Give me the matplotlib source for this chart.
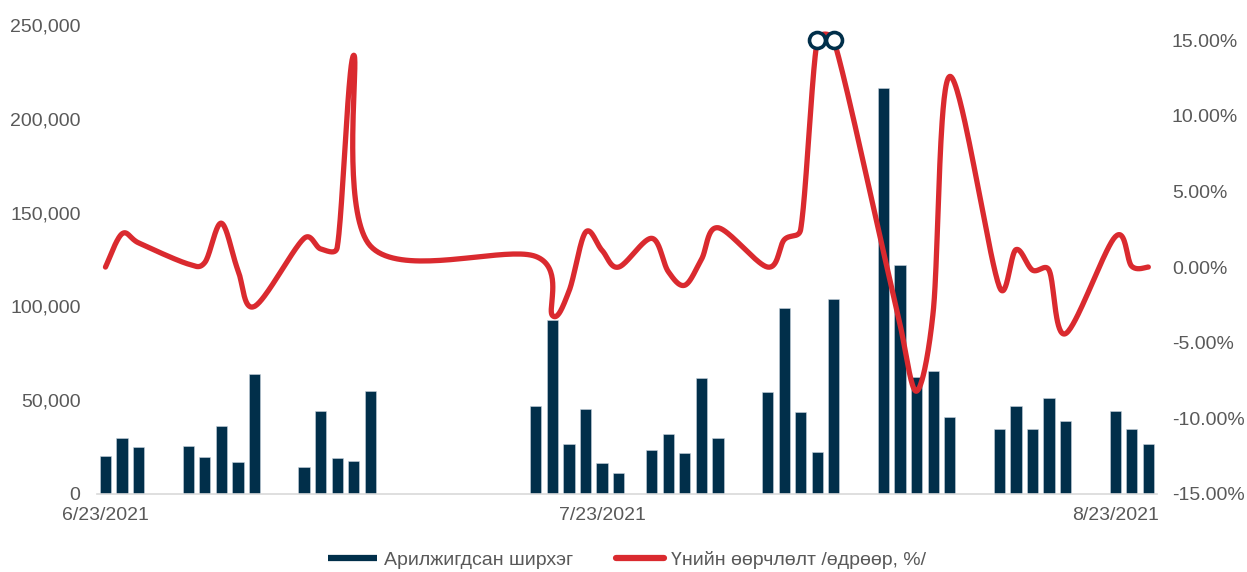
import numpy as np
import matplotlib
matplotlib.use("Agg")
import matplotlib.pyplot as plt
import matplotlib.dates as mdates
from matplotlib.lines import Line2D
from matplotlib.ticker import FuncFormatter, FixedLocator
import datetime as dt

plt.rcParams['font.family'] = ['Liberation Sans', 'DejaVu Sans']

# ---------------- data ----------------
dates = ["2021-06-23", "2021-06-24", "2021-06-25", "2021-06-28", "2021-06-29", "2021-06-30",
         "2021-07-01", "2021-07-02", "2021-07-05", "2021-07-06", "2021-07-07", "2021-07-08",
         "2021-07-09", "2021-07-19", "2021-07-20", "2021-07-21", "2021-07-22", "2021-07-23",
         "2021-07-24", "2021-07-26", "2021-07-27", "2021-07-28", "2021-07-29", "2021-07-30",
         "2021-08-02", "2021-08-03", "2021-08-04", "2021-08-05", "2021-08-06", "2021-08-09",
         "2021-08-10", "2021-08-11", "2021-08-12", "2021-08-13", "2021-08-16", "2021-08-17",
         "2021-08-18", "2021-08-19", "2021-08-20", "2021-08-23", "2021-08-24", "2021-08-25"]

volume = [20000, 29700, 24900, 25800, 19900, 36400,
          16900, 64200, 14200, 44400, 19000, 17400,
          55100, 46900, 92800, 26500, 45300, 16700,
          11000, 23300, 32200, 21700, 61700, 29700,
          54200, 99200, 43600, 22400, 104200, 216400,
          122100, 62400, 65800, 41200, 34700, 46900,
          34700, 51000, 38800, 44400, 34700, 26500]

change_pct = [0.0, 2.2, 1.6, 0.2, 0.3, 2.9,
              -0.2, -2.6, 1.9, 1.2, 1.3, 14.0,
              1.4, 0.7, -3.2, -1.6, 2.3, 1.1,
              0.0, 1.9, -0.3, -1.2, 0.5, 2.6,
              0.0, 1.8, 2.5, 15.0, 15.0, 1.0,
              -3.8, -8.2, -3.0, 12.6, -1.3, 1.15,
              -0.2, -0.2, -4.4, 2.0, 0.05, 0.0]

marked_dates = ["2021-08-05", "2021-08-06"]

x_tick_dates = ["2021-06-23", "2021-07-23", "2021-08-23"]
left_ticks = [0, 50000, 100000, 150000, 200000, 250000]
right_ticks = [-0.15, -0.10, -0.05, 0.0, 0.05, 0.10, 0.15]

series_names = ["Арилжигдсан ширхэг", "Үнийн өөрчлөлт /өдрөөр, %/"]

# ---------------- style ----------------
NAVY = "#012f4a"
RED = "#da2a2f"
GRAY_TXT = "#595959"
AXIS_GRAY = "#d9d9d9"
FS = 14

def to_num(s):
    return mdates.date2num(dt.datetime.strptime(s, "%Y-%m-%d"))

xd = np.array([to_num(d) for d in dates])
yv = np.array(volume, dtype=float)
yc = np.array(change_pct, dtype=float) / 100.0

fig = plt.figure(figsize=(12.47, 5.72), dpi=100)
L, R = 97.2 / 1247, 1156.6 / 1247
B, T = 1 - 494 / 572, 1 - 25 / 572
ax = fig.add_axes([L, B, R - L, T - B])
ax2 = ax.twinx()

ax.bar(xd, yv, width=0.68, color=NAVY, edgecolor="#c8d3dc", linewidth=0.4, zorder=2)

ax.set_xlim(xd[0] - 0.5, xd[-1] + 0.5)
ax.set_ylim(0, 250000)
ax2.set_ylim(-0.15, 0.16)

ax.xaxis.set_major_locator(FixedLocator([to_num(d) for d in x_tick_dates]))
ax.xaxis.set_major_formatter(FuncFormatter(
    lambda v, p: f"{mdates.num2date(v).month}/{mdates.num2date(v).day}/{mdates.num2date(v).year}"))
ax.yaxis.set_major_locator(FixedLocator(left_ticks))
ax.yaxis.set_major_formatter(FuncFormatter(lambda v, p: f"{int(v):,}"))
ax2.yaxis.set_major_locator(FixedLocator(right_ticks))
ax2.yaxis.set_major_formatter(FuncFormatter(lambda v, p: f"{v*100:.2f}%"))

for a in (ax, ax2):
    for s in a.spines.values():
        s.set_visible(False)
    a.tick_params(length=0, labelsize=FS, labelcolor=GRAY_TXT)
ax.spines['bottom'].set_visible(True)
ax.spines['bottom'].set_color(AXIS_GRAY)
ax.spines['bottom'].set_linewidth(1.2)
ax.tick_params(axis='y', pad=12)
ax.tick_params(axis='x', pad=9)
ax2.tick_params(axis='y', pad=11)

# ---------- Excel-like smoothed line (Bezier in display space) ----------
P = ax2.transData.transform(np.column_stack([xd, yc]))
n = len(P)
curve = [P[0]]
ts = np.linspace(0, 1, 40)[1:]
for i in range(n - 1):
    p0 = P[i - 1] if i > 0 else P[i]
    p1, p2 = P[i], P[i + 1]
    p3 = P[i + 2] if i + 2 < n else P[i + 1]
    d12 = np.hypot(*(p2 - p1))
    d02 = np.hypot(*(p2 - p0))
    d13 = np.hypot(*(p3 - p1))
    f1 = 1 / 6
    f2 = 1 / 6
    if d02 > 0 and d02 / 6 > d12 / 2:
        f1 = d12 / (2 * d02)
    if d13 > 0 and d13 / 6 > d12 / 2:
        f2 = d12 / (2 * d13)
    c1 = p1 + f1 * (p2 - p0)
    c2 = p2 - f2 * (p3 - p1)
    for t in ts:
        pt = ((1 - t) ** 3) * p1 + 3 * ((1 - t) ** 2) * t * c1 + 3 * (1 - t) * t ** 2 * c2 + t ** 3 * p2
        curve.append(pt)
curve = np.array(curve)
cd = ax2.transData.inverted().transform(curve)
ax2.plot(cd[:, 0], cd[:, 1], color=RED, lw=3.8, solid_capstyle='round', solid_joinstyle='round', zorder=3)

mk = [dates.index(d) for d in marked_dates]
ax2.plot(xd[mk], yc[mk], linestyle='none', marker='o', markersize=11.5,
         markerfacecolor='white', markeredgecolor=NAVY, markeredgewidth=2.6, zorder=4)
ax2.set_xlim(ax.get_xlim())

handles = [Line2D([0], [0], color=NAVY, lw=4.5, solid_capstyle='butt'),
           Line2D([0], [0], color=RED, lw=4.5, solid_capstyle='round')]
fig.legend(handles, series_names, loc='center', bbox_to_anchor=(0.503, 1 - 560 / 572),
           ncol=2, frameon=False, fontsize=FS, labelcolor=GRAY_TXT,
           handlelength=2.5, handletextpad=0.35, columnspacing=2.2)

fig.savefig("out.png", dpi=100)
